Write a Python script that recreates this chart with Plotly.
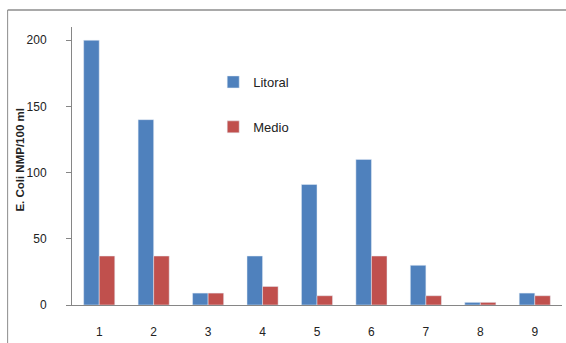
import plotly.graph_objects as go

# Sampling points and E. coli counts (NMP/100 ml)
puntos = ["1", "2", "3", "4", "5", "6", "7", "8", "9"]
litoral = [200, 140, 9, 37, 91, 110, 30, 2, 9]
medio = [37, 37, 9, 14, 7, 37, 7, 2, 7]
y_ticks = [0, 50, 100, 150, 200]

W, H = 566, 343
ML, MR, MT, MB = 71.5, 3.5, 27, 38
pw, ph = W - ML - MR, H - MT - MB


def px_x(x):
    return (x - ML) / pw


def px_y(y):
    return (H - MB - y) / ph


fig = go.Figure()
fig.add_trace(go.Bar(x=puntos, y=litoral, name="Litoral", marker_color="#4F81BD",
                     legendgroup="a"))
fig.add_trace(go.Bar(x=puntos, y=medio, name="Medio", marker_color="#C0504D",
                     legendgroup="b"))

font = "Liberation Sans, Arial, sans-serif"
fig.update_layout(
    width=W, height=H,
    margin=dict(l=ML, r=MR, t=MT, b=MB, pad=0),
    paper_bgcolor="white", plot_bgcolor="white",
    barmode="group", bargap=0.4286, bargroupgap=0,
    font=dict(family=font, size=12, color="#222"),
    showlegend=True,
    legend=dict(x=px_x(213), y=px_y(67), xanchor="left", yanchor="top",
                font=dict(size=13, color="#222"), tracegroupgap=25,
                bgcolor="rgba(0,0,0,0)"),
    xaxis=dict(showline=True, linecolor="#868686", linewidth=1, ticks="",
               showgrid=False, ticklabelstandoff=16, tickfont=dict(size=12)),
    yaxis=dict(range=[0, 210], tickvals=y_ticks, showline=True,
               linecolor="#868686", linewidth=1, ticks="outside", ticklen=5,
               tickcolor="#868686", showgrid=False, zeroline=False,
               ticklabelstandoff=17, tickfont=dict(size=12)),
)

# Axis title
fig.add_annotation(text="<b>E. Coli NMP/100 ml</b>", textangle=-90,
                   xref="paper", yref="paper", x=px_x(19), y=px_y(160),
                   xanchor="center", yanchor="middle",
                   showarrow=False, font=dict(size=11.5, color="#222"))

# Chart frame (left and top edges)
fig.add_shape(type="line", xref="paper", yref="paper",
              x0=px_x(7), x1=px_x(7), y0=px_y(H + 5), y1=px_y(10),
              line=dict(color="#8c8c8c", width=1))
fig.add_shape(type="line", xref="paper", yref="paper",
              x0=px_x(7), x1=px_x(W + 5), y0=px_y(10), y1=px_y(10),
              line=dict(color="#8c8c8c", width=1.5))

fig.write_html("out.html")
